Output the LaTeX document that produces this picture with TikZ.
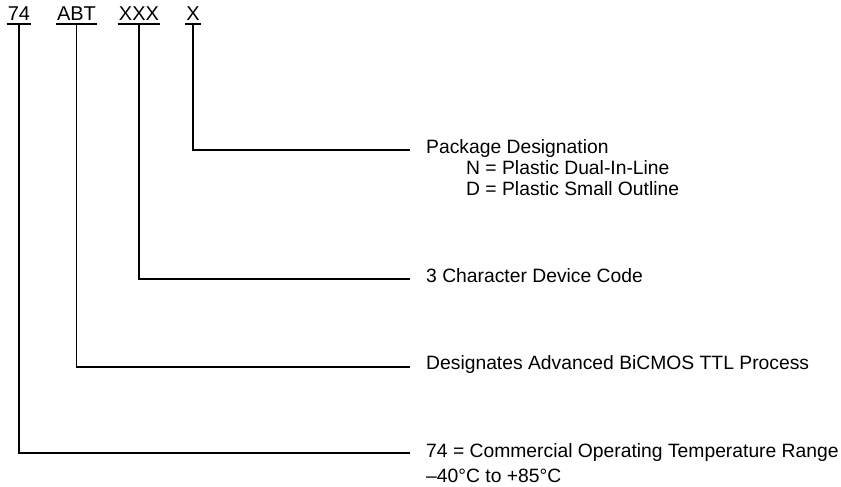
\documentclass[tikz,border=0pt]{standalone}
\usepackage{fontspec}
\setmainfont{Liberation Sans}
\usetikzlibrary{positioning}
\begin{document}
\begin{tikzpicture}[
    x=1pt, y=-1pt,
    field/.style={font=\fontsize{20}{24}\selectfont, inner xsep=1pt, inner ysep=3pt, anchor=base},
    desc/.style={font=\fontsize{19.3}{23}\selectfont, inner sep=0pt, anchor=base west},
    lead/.style={line width=1.8pt},
    uline/.style={line width=1.6pt},
]
    \useasboundingbox (0,0) rectangle (841,487);

    % Part number fields
    \node[field] (f74)  at (19,21)    {74};
    \node[field] (fABT) at (76.5,21)  {ABT};
    \node[field] (fXXX) at (139,21)   {XXX};
    \node[field] (fX)   at (193,21)   {X};

    % Descriptions
    \node[desc] (dX) at (426,153) {Package Designation};
    \node[desc, xshift=40pt, yshift=-21pt] (dN) at (dX.base west) {N = Plastic Dual-In-Line};
    \node[desc, yshift=-21pt] (dD) at (dN.base west) {D = Plastic Small Outline};
    \node[desc] (dXXX) at (426,282) {3 Character Device Code};
    \node[desc] (dABT) at (426,369) {Designates Advanced BiCMOS TTL Process};
    \node[desc] (d74)  at (426,457) {74 = Commercial Operating Temperature Range};
    \node[desc, yshift=-25pt] (dT) at (d74.base west) {–40°C to +85°C};

    % Leader ends
    \coordinate (eX)   at (410,150);
    \coordinate (eXXX) at (410,279);
    \coordinate (eABT) at (410,367);
    \coordinate (e74)  at (410,453);

    % Underlines
    \foreach \f in {f74,fABT,fXXX,fX}
        \draw[uline] (\f.south west) -- (\f.south east);

    % Leaders
    \draw[lead] (fX.south)   |- (eX);
    \draw[lead] (fXXX.south) |- (eXXX);
    \draw[lead] (fABT.south) |- (eABT);
    \draw[lead] (f74.south)  |- (e74);
\end{tikzpicture}
\end{document}
